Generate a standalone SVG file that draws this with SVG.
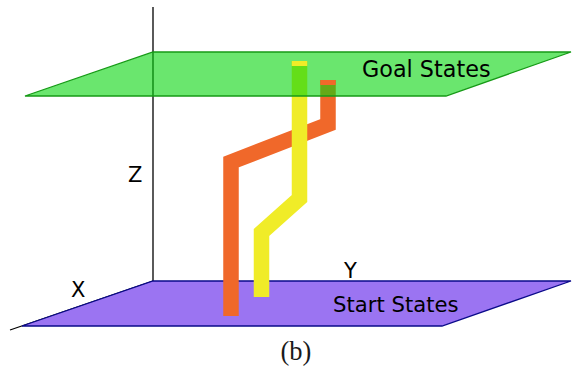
<svg xmlns="http://www.w3.org/2000/svg" width="572" height="372" viewBox="0 0 572 372">
<style>
.lbl{font-family:"DejaVu Sans",sans-serif;fill:#000}
.path{fill:none;stroke-width:15.5;stroke-linejoin:miter;stroke-linecap:butt}
</style>
<rect width="572" height="372" fill="#fff"/>
<g id="axes">
<line x1="153" y1="7" x2="153" y2="281" stroke="#000" stroke-width="1.3"/>
<line x1="153" y1="281" x2="10" y2="330" stroke="#000" stroke-width="1.3"/>
</g>
<g id="start-plane">
<polygon points="153,281 571,281 442,326 22,326" fill="#9b74f2" stroke="#0a0a8a" stroke-width="1.3"/>
<text class="lbl" x="333" y="312" font-size="21.2">Start States</text>
</g>
<g id="connectors">
<polyline class="path" stroke="#f0682a" points="231,316 231,162 328,124.5 328,80"/>
<polyline class="path" stroke="#f0ec28" points="261.5,297 261.5,232.5 299.5,198.5 299.5,61"/>
</g>
<g id="goal-plane">
<polygon points="153,52 571,52 446,96 25,96" fill="#07d50d" fill-opacity="0.6" stroke="#169a16" stroke-width="1.3"/>
<rect x="320.25" y="80" width="15.5" height="5" fill="#f0682a"/>
<rect x="291.75" y="61" width="15.5" height="5" fill="#f0ec28"/>
<text class="lbl" x="362" y="77" font-size="22.3">Goal States</text>
</g>
<g id="labels">
<text class="lbl" x="128" y="182" font-size="21">Z</text>
<text class="lbl" x="71" y="297" font-size="21">X</text>
<text class="lbl" x="344" y="278" font-size="21">Y</text>
<text x="296" y="360" font-size="26.5" text-anchor="middle" font-family="'Liberation Serif',serif" fill="#1a1a1a">(b)</text>
</g>
</svg>
